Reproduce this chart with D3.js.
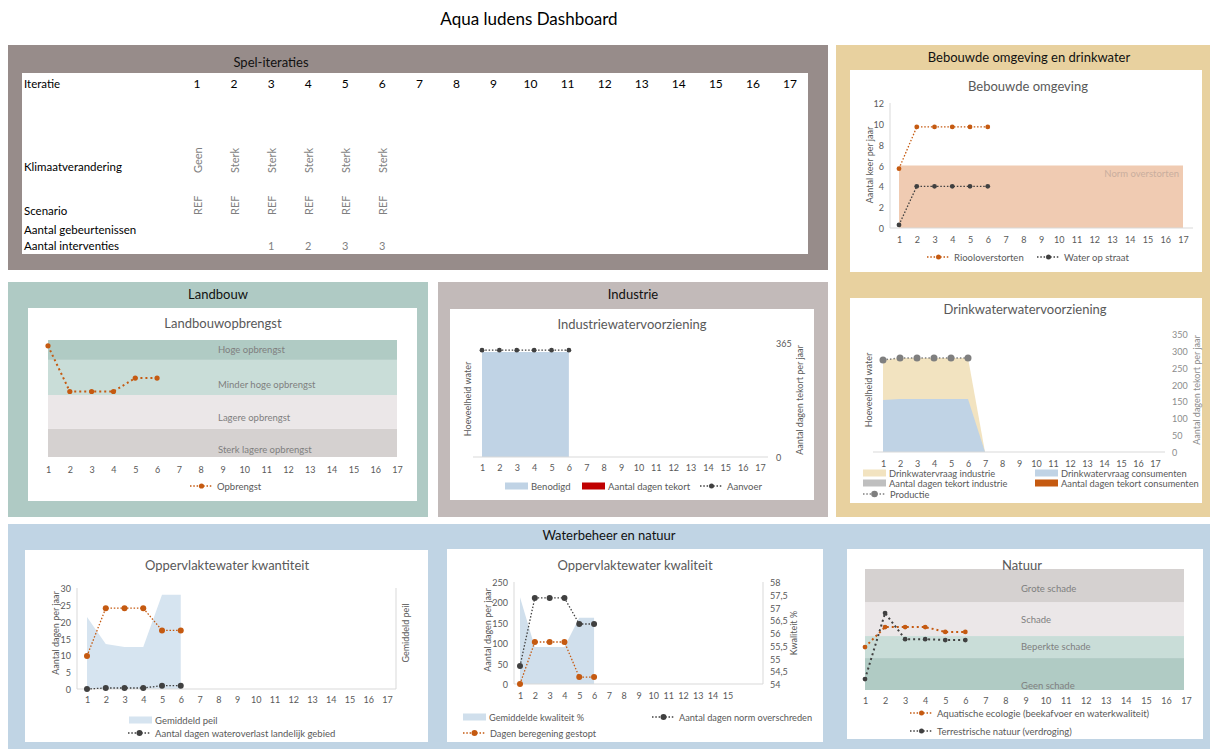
<!DOCTYPE html>
<html>
<head>
<meta charset="utf-8">
<script src="https://cdn.jsdelivr.net/npm/d3@7"></script>
<style>
  body { margin: 0; background: #fff; }
  text { font-family: Lato, 'Open Sans', sans-serif; }
</style>
</head>
<body>
<script>
// ---------- data ----------
const iteraties = [1, 2, 3, 4, 5, 6, 7, 8, 9, 10, 11, 12, 13, 14, 15, 16, 17];
const klimaatverandering = ['Geen', 'Sterk', 'Sterk', 'Sterk', 'Sterk', 'Sterk'];
const scenario = ['REF', 'REF', 'REF', 'REF', 'REF', 'REF'];
const interventies = ['', '', 1, 2, 3, 3];

// Bebouwde omgeving
const riooloverstorten = [5.7, 9.7, 9.7, 9.7, 9.7, 9.7];
const waterOpStraat = [0.3, 4, 4, 4, 4, 4];
const normOverstorten = 6;
const bebouwdTicks = [0, 2, 4, 6, 8, 10, 12];

// Landbouw
const opbrengst = [95, 56, 56, 56, 67.5, 67.5];
const landbouwKlassen = ['Sterk lagere opbrengst', 'Lagere opbrengst', 'Minder hoge opbrengst', 'Hoge opbrengst'];
const landbouwGrenzen = [0, 24, 53, 83, 100];

// Industrie
const benodigd = [336, 336, 336, 336, 336, 336];
const aanvoer = [342, 342, 342, 342, 342, 342];
const industrieTicks = [0, 365];

// Drinkwater
const vraagConsumenten = [154, 157, 157, 157, 157, 157, 0];
const vraagIndustrie = [119, 122, 122, 122, 122, 122, 0];
const productie = [273, 279, 279, 279, 279, 279];
const drinkTicks = [0, 50, 100, 150, 200, 250, 300, 350];

// Oppervlaktewater kwantiteit
const gemiddeldPeil = [21.4, 13.4, 12.5, 12.5, 28, 28];
const dagenOranje = [9.8, 24, 24, 24, 17.4, 17.4];
const wateroverlast = [0, 0.3, 0.3, 0.3, 1, 1];
const kwantTicks = [0, 5, 10, 15, 20, 25, 30];

// Oppervlaktewater kwaliteit
const kwaliteit = [57.4, 55.45, 55.45, 55.45, 56.6, 56.6];
const normOverschreden = [44, 211, 211, 211, 147, 147];
const beregeningGestopt = [0, 103, 103, 103, 17, 17];
const kwalLeftTicks = [0, 50, 100, 150, 200, 250];
const kwalRightTicks = [54, 54.5, 55, 55.5, 56, 56.5, 57, 57.5, 58];
const kwalLabels = [1, 2, 3, 4, 5, 6, 7, 8, 9, 10, 11, 12, 13, 14, 15];

// Natuur
const aquatisch = [35.5, 52, 52, 52, 48, 48];
const terrestrisch = [9, 63.6, 42, 42, 41.3, 41.3];
const natuurKlassen = ['Geen schade', 'Beperkte schade', 'Schade', 'Grote schade'];
const natuurGrenzen = [0, 26.4, 44.6, 72.7, 100];

// ---------- helpers ----------
const ORANGE = '#c55a11', DARK = '#404040', GREY = '#595959', AXIS = '#d9d9d9';

const svg = d3.select('body').append('svg').attr('width', 1216).attr('height', 749);

function txt(g, x, y, s, o = {}) {
  return g.append('text').attr('x', x).attr('y', y).text(s)
    .attr('font-size', o.size || 9).attr('fill', o.color || GREY)
    .attr('text-anchor', o.anchor || 'middle')
    .attr('dominant-baseline', 'central');
}
function rot(g, x, y, s, o = {}) {
  return txt(g, x, y, s, o).attr('transform', `rotate(-90,${x},${y})`);
}
function panel(x, y, w, h, color, title, tx, ty) {
  svg.append('rect').attr('x', x).attr('y', y).attr('width', w).attr('height', h).attr('fill', color);
  txt(svg, tx, ty, title, { size: 13, color: '#111' });
}
function box(x, y, w, h) {
  return svg.append('rect').attr('x', x).attr('y', y).attr('width', w).attr('height', h).attr('fill', '#fff');
}
function hline(g, x1, x2, y) {
  g.append('line').attr('x1', x1).attr('x2', x2).attr('y1', y).attr('y2', y).attr('stroke', AXIS);
}
function vline(g, x, y1, y2) {
  g.append('line').attr('x1', x).attr('x2', x).attr('y1', y1).attr('y2', y2).attr('stroke', AXIS);
}
function xAxis(g, x, yPos, labelY, vals) {
  const a = g.append('g').attr('transform', `translate(0,${yPos})`)
    .call(d3.axisBottom(x).tickValues(vals || x.domain()).tickSize(0));
  a.select('.domain').remove();
  a.selectAll('text').attr('dy', null).attr('y', labelY - yPos).attr('dominant-baseline', 'central')
    .attr('font-size', 9).attr('fill', GREY).attr('font-family', null);
}
function yAxis(g, y, xPos, labelX, vals, side, fmt, color) {
  const gen = side === 'left' ? d3.axisLeft(y) : d3.axisRight(y);
  const a = g.append('g').attr('transform', `translate(${xPos},0)`)
    .call(gen.tickValues(vals).tickSize(0).tickFormat(fmt || (d => d)));
  a.select('.domain').remove();
  a.selectAll('text').attr('dy', null).attr('x', labelX - xPos).attr('dominant-baseline', 'central')
    .attr('font-size', 9).attr('fill', color || GREY).attr('font-family', null);
}
function series(g, vals, x, y, color, r, dash, w) {
  const line = d3.line().x((d, i) => x(i + 1)).y(d => y(d));
  g.append('path').attr('d', line(vals)).attr('fill', 'none').attr('stroke', color)
    .attr('stroke-width', w || 1.3).attr('stroke-dasharray', dash || '1.5,1.8');
  g.selectAll(null).data(vals).join('circle')
    .attr('cx', (d, i) => x(i + 1)).attr('cy', d => y(d)).attr('r', r).attr('fill', color);
}
function area(g, vals, x, y, y0val, color) {
  const a = d3.area().x((d, i) => x(i + 1)).y0(y(y0val)).y1(d => y(d));
  g.append('path').attr('d', a(vals)).attr('fill', color);
}
function legLine(g, x, y, color, label, r, size) {
  g.append('line').attr('x1', x).attr('x2', x + 23).attr('y1', y).attr('y2', y)
    .attr('stroke', color).attr('stroke-width', 1.3).attr('stroke-dasharray', '1.5,1.8');
  g.append('circle').attr('cx', x + 11.5).attr('cy', y).attr('r', r || 2.5).attr('fill', color);
  txt(g, x + 27, y, label, { size: size || 9.5, anchor: 'start' });
}
function legBox(g, x, y, color, label, size) {
  g.append('rect').attr('x', x).attr('y', y - 3.5).attr('width', 23).attr('height', 7).attr('fill', color);
  txt(g, x + 26, y, label, { size: size || 9.5, anchor: 'start' });
}
function bands(g, x, y, grenzen, klassen, colors, x0, x1, labelX, offsets) {
  klassen.forEach((k, i) => {
    g.append('rect').attr('x', x0).attr('width', x1 - x0)
      .attr('y', y(grenzen[i + 1])).attr('height', y(grenzen[i]) - y(grenzen[i + 1]))
      .attr('fill', colors[i]);
    txt(g, labelX, (y(grenzen[i]) + y(grenzen[i + 1])) / 2 + offsets[i], k,
      { size: 9.5, anchor: 'start', color: '#7f7f7f' });
  });
}

// ---------- title ----------
txt(svg, 529, 18, 'Aqua ludens Dashboard', { size: 17, color: '#000' });

// ---------- Spel-iteraties ----------
panel(8, 45, 820, 225, '#978c8a', 'Spel-iteraties', 271, 62);
box(22, 73, 786, 181);
{
  const g = svg.append('g');
  const x = d3.scalePoint().domain(iteraties).range([197, 790]);
  const rows = [['Iteratie', 83], ['Klimaatverandering', 166], ['Scenario', 210],
    ['Aantal gebeurtenissen', 229], ['Aantal interventies', 245]];
  rows.forEach(r => txt(g, 24, r[1], r[0], { size: 11.5, anchor: 'start', color: '#000' }));
  iteraties.forEach(d => txt(g, x(d), 83, d, { size: 12, color: '#000' }));
  klimaatverandering.forEach((d, i) => rot(g, x(i + 1), 173, d, { size: 11, anchor: 'start', color: '#7f7f7f' }));
  scenario.forEach((d, i) => rot(g, x(i + 1), 215, d, { size: 11, anchor: 'start', color: '#7f7f7f' }));
  interventies.forEach((d, i) => txt(g, x(i + 1), 245, d, { size: 11, color: '#7f7f7f' }));
}

// ---------- Bebouwde omgeving en drinkwater ----------
panel(836, 45, 374, 472, '#e8d19f', 'Bebouwde omgeving en drinkwater', 1029, 57);
box(850, 70, 352, 202);
{
  const g = svg.append('g');
  txt(g, 1028, 86, 'Bebouwde omgeving', { size: 13 });
  const x = d3.scalePoint().domain(iteraties).range([899, 1183]);
  const y = d3.scaleLinear().domain([0, 12]).range([228, 103]);
  g.append('rect').attr('x', x(1)).attr('y', y(normOverstorten))
    .attr('width', x(17) - x(1)).attr('height', y(0) - y(normOverstorten)).attr('fill', '#f0cbb2');
  txt(g, 1179, 173, 'Norm overstorten', { size: 9.5, anchor: 'end', color: '#c9ae9e' });
  vline(g, 890, 103, 228);
  hline(g, 890, 1193, 228);
  yAxis(g, y, 890, 884, bebouwdTicks, 'left');
  xAxis(g, x, 228, 239);
  rot(g, 869, 165, 'Aantal keer per jaar', { size: 9 });
  series(g, riooloverstorten, x, y, ORANGE, 2.4);
  series(g, waterOpStraat, x, y, DARK, 2.4);
  legLine(g, 927, 257, ORANGE, 'Riooloverstorten');
  legLine(g, 1037, 257, DARK, 'Water op straat');
}
box(850, 298, 352, 205);
{
  const g = svg.append('g');
  txt(g, 1025, 309, 'Drinkwaterwatervoorziening', { size: 13 });
  const x = d3.scalePoint().domain(iteraties).range([883, 1155]);
  const y = d3.scaleLinear().domain([0, 350]).range([452, 334]);
  const totaal = vraagConsumenten.map((d, i) => d + vraagIndustrie[i]);
  area(g, totaal, x, y, 0, '#f2e3c0');
  area(g, vraagConsumenten, x, y, 0, '#c0d3e5');
  hline(g, 873, 1165, 452);
  yAxis(g, y, 1165, 1172, drinkTicks, 'right', null, '#8c8c8c');
  xAxis(g, x, 452, 463);
  rot(g, 868, 390, 'Hoeveelheid water', { size: 9 });
  rot(g, 1196, 390, 'Aantal dagen tekort per jaar', { size: 9, color: '#8c8c8c' });
  series(g, productie, x, y, '#7f7f7f', 3.5, '1.5,2', 1.5);
  legBox(g, 863, 473, '#f2e3c0', 'Drinkwatervraag industrie', 9.3);
  legBox(g, 1035, 473, '#c0d3e5', 'Drinkwatervraag consumenten', 9.3);
  legBox(g, 863, 483, '#bfbfbf', 'Aantal dagen tekort industrie', 9.3);
  legBox(g, 1035, 483, ORANGE, 'Aantal dagen tekort consumenten', 9.3);
  legLine(g, 863, 494, '#7f7f7f', 'Productie', 3.3, 9.3);
}

// ---------- Landbouw ----------
panel(8, 282, 420, 235, '#afcac4', 'Landbouw', 218, 294);
box(28, 308, 389, 193);
{
  const g = svg.append('g');
  txt(g, 223, 323, 'Landbouwopbrengst', { size: 13 });
  const x = d3.scalePoint().domain(iteraties).range([48, 397]);
  const y = d3.scaleLinear().domain([0, 100]).range([457, 340]);
  bands(g, x, y, landbouwGrenzen, landbouwKlassen,
    ['#d5d1d0', '#ebe7e8', '#c9ddd8', '#b0cbc4'], 48, 397, 218, [7, 6, 7, 0]);
  xAxis(g, x, 457, 469);
  series(g, opbrengst, x, y, ORANGE, 2.6, '2,3', 2);
  legLine(g, 190, 486, ORANGE, 'Opbrengst', 2.6);
}

// ---------- Industrie ----------
panel(438, 282, 390, 235, '#c2bab9', 'Industrie', 633, 294);
box(450, 309, 364, 191);
{
  const g = svg.append('g');
  txt(g, 632, 324, 'Industriewatervoorziening', { size: 13 });
  const x = d3.scalePoint().domain(iteraties).range([482, 760]);
  const y = d3.scaleLinear().domain([0, 365]).range([457, 343]);
  area(g, benodigd, x, y, 0, '#c0d3e5');
  hline(g, 473, 768, 457);
  yAxis(g, y, 768, 776, industrieTicks, 'right');
  xAxis(g, x, 457, 467);
  rot(g, 467, 399, 'Hoeveelheid water', { size: 9 });
  rot(g, 799, 400, 'Aantal dagen tekort per jaar', { size: 9 });
  series(g, aanvoer, x, y, DARK, 2.4);
  legBox(g, 505, 486, '#c0d3e5', 'Benodigd');
  legBox(g, 582, 486, '#c00000', 'Aantal dagen tekort');
  legLine(g, 700, 486, DARK, 'Aanvoer');
}

// ---------- Waterbeheer en natuur ----------
panel(8, 524, 1202, 225, '#c0d4e4', 'Waterbeheer en natuur', 609, 535);

box(25, 550, 403, 192);
{
  const g = svg.append('g');
  txt(g, 227, 565, 'Oppervlaktewater  kwantiteit', { size: 13 });
  const x = d3.scalePoint().domain(iteraties).range([87, 387]);
  const y = d3.scaleLinear().domain([0, 30]).range([689, 588]);
  area(g, gemiddeldPeil, x, y, 0, '#d6e4f0');
  vline(g, 77, 588, 689);
  vline(g, 396, 588, 689);
  hline(g, 77, 396, 689);
  yAxis(g, y, 77, 71, kwantTicks, 'left');
  xAxis(g, x, 689, 699);
  rot(g, 55, 633, 'Aantal dagen per jaar', { size: 9 });
  rot(g, 405, 633, 'Gemiddeld peil', { size: 9 });
  series(g, dagenOranje, x, y, ORANGE, 3);
  series(g, wateroverlast, x, y, DARK, 3);
  legBox(g, 129, 720, '#d6e4f0', 'Gemiddeld peil');
  legLine(g, 128, 733, DARK, 'Aantal dagen wateroverlast landelijk gebied', 3);
}

box(447, 549, 376, 193);
{
  const g = svg.append('g');
  txt(g, 635, 565, 'Oppervlaktewater  kwaliteit', { size: 13 });
  const x = d3.scalePoint().domain(iteraties).range([520, 757]);
  const yL = d3.scaleLinear().domain([0, 250]).range([684, 582]);
  const yR = d3.scaleLinear().domain([54, 58]).range([684, 582]);
  area(g, kwaliteit, x, yR, 54, '#d0dfec');
  vline(g, 514, 582, 684);
  vline(g, 763, 582, 684);
  hline(g, 514, 763, 684);
  yAxis(g, yL, 514, 508, kwalLeftTicks, 'left');
  yAxis(g, yR, 763, 770, kwalRightTicks, 'right', d => String(d).replace('.', ','));
  xAxis(g, x, 684, 695, kwalLabels);
  rot(g, 487, 630, 'Aantal dagen per jaar', { size: 9 });
  rot(g, 793, 633, 'Kwaliteit %', { size: 9 });
  series(g, normOverschreden, x, yL, DARK, 3);
  series(g, beregeningGestopt, x, yL, ORANGE, 3);
  legBox(g, 463, 717, '#d0dfec', 'Gemiddelde kwaliteit %', 9.2);
  legLine(g, 652, 717, DARK, 'Aantal dagen norm overschreden', 3, 9.2);
  legLine(g, 463, 733, ORANGE, 'Dagen beregening gestopt', 3, 9.2);
}

box(847, 549, 356, 190);
{
  const g = svg.append('g');
  const x = d3.scalePoint().domain(iteraties).range([865, 1186]);
  const y = d3.scaleLinear().domain([0, 100]).range([690, 569]);
  bands(g, x, y, natuurGrenzen, natuurKlassen,
    ['#b0cbc4', '#c9ddd8', '#ebe7e8', '#d5d1d0'], 865, 1184, 1021, [11, -1, 0, 3]);
  txt(g, 1022, 565, 'Natuur', { size: 13 });
  xAxis(g, x, 690, 700);
  series(g, aquatisch, x, y, ORANGE, 2.4, '2,3', 2);
  series(g, terrestrisch, x, y, DARK, 2.4, '2,3', 2);
  legLine(g, 910, 713, ORANGE, 'Aquatische ecologie (beekafvoer en waterkwaliteit)');
  legLine(g, 910, 731, DARK, 'Terrestrische natuur (verdroging)');
}
</script>
</body>
</html>
